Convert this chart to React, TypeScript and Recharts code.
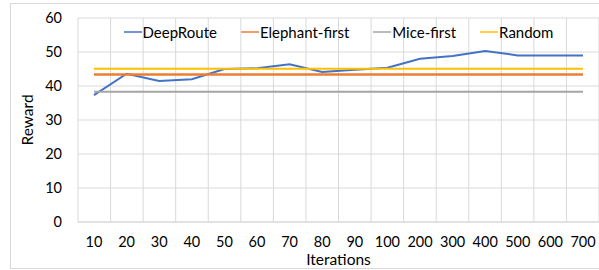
import React from "react";
import {
  LineChart,
  Line,
  XAxis,
  YAxis,
  CartesianGrid,
  Legend,
} from "recharts";

const iterations = ["10", "20", "30", "40", "50", "60", "70", "80", "90", "100", "200", "300", "400", "500", "600", "700"];
const deepRoute = [37.3, 43.6, 41.5, 42, 45, 45.2, 46.4, 44.1, 44.8, 45.4, 48, 48.8, 50.3, 49, 49, 49];
const elephantFirst = [43.4, 43.4, 43.4, 43.4, 43.4, 43.4, 43.4, 43.4, 43.4, 43.4, 43.4, 43.4, 43.4, 43.4, 43.4, 43.4];
const miceFirst = [38.3, 38.3, 38.3, 38.3, 38.3, 38.3, 38.3, 38.3, 38.3, 38.3, 38.3, 38.3, 38.3, 38.3, 38.3, 38.3];
const random = [45.1, 45.1, 45.1, 45.1, 45.1, 45.1, 45.1, 45.1, 45.1, 45.1, 45.1, 45.1, 45.1, 45.1, 45.1, 45.1];
const yTicks = [0, 10, 20, 30, 40, 50, 60];

const data = iterations.map((it, i) => ({
  name: it,
  DeepRoute: deepRoute[i],
  "Elephant-first": elephantFirst[i],
  "Mice-first": miceFirst[i],
  Random: random[i],
}));

const font = "Lato, 'Open Sans', sans-serif";

function LegendContent({ payload }: any) {
  return (
    <div style={{ display: "flex", justifyContent: "center", gap: 24, fontFamily: font, fontSize: 15, color: "#000" }}>
      {(payload || []).map((p: any) => (
        <div key={p.value} style={{ display: "flex", alignItems: "center" }}>
          <svg width={18} height={4} style={{ marginRight: 1 }}>
            <line x1={0} y1={2} x2={18} y2={2} stroke={p.color} strokeWidth={1.5} />
          </svg>
          <span>{p.value}</span>
        </div>
      ))}
    </div>
  );
}

export default function App() {
  return (
    <div style={{ position: "absolute", left: 0, top: 0, width: 599, height: 270, background: "#fff", overflow: "hidden" }}>
      <div style={{ position: "absolute", left: 10, top: 3, width: 600, height: 264, border: "1px solid #d9d9d9" }} />
      <div style={{ position: "absolute", left: 0, top: 0 }}>
        <LineChart width={599} height={270} data={data} margin={{ top: 18, right: 0, bottom: 0, left: 10 }}>
          <CartesianGrid
            stroke="#d9d9d9"
            verticalCoordinatesGenerator={({ offset }: any) =>
              [...iterations, ""].map((_, i) => offset.left + (i * offset.width) / iterations.length)
            }
          />
          <XAxis
            dataKey="name"
            padding={{ left: 16, right: 16 }}
            height={48}
            tickLine={false}
            axisLine={{ stroke: "#d9d9d9" }}
            tickMargin={9}
            interval={0}
            tick={{ fill: "#000", fontSize: 14.5, fontFamily: font }}
            label={{ value: "Iterations", position: "insideBottom", offset: 5, fill: "#000", fontSize: 15.5, fontFamily: font }}
          />
          <YAxis
            width={68}
            domain={[0, 60]}
            ticks={yTicks}
            tickLine={false}
            axisLine={false}
            tickMargin={10}
            tick={{ fill: "#000", fontSize: 14.5, fontFamily: font }}
            label={{ value: "Reward", angle: -90, position: "insideLeft", offset: 17, fill: "#000", fontSize: 15.5, fontFamily: font, style: { textAnchor: "middle" } }}
          />
          <Legend
            verticalAlign="middle"
            align="center"
            layout="horizontal"
            wrapperStyle={{ top: 23, left: 78, width: 521 }}
            content={<LegendContent />}
          />
          <Line dataKey="DeepRoute" stroke="#4472C4" strokeWidth={2} dot={false} isAnimationActive={false} />
          <Line dataKey="Elephant-first" stroke="#ED7D31" strokeWidth={2.5} dot={false} isAnimationActive={false} />
          <Line dataKey="Mice-first" stroke="#A5A5A5" strokeWidth={2} dot={false} isAnimationActive={false} />
          <Line dataKey="Random" stroke="#FFC000" strokeWidth={2} dot={false} isAnimationActive={false} />
        </LineChart>
      </div>
    </div>
  );
}
